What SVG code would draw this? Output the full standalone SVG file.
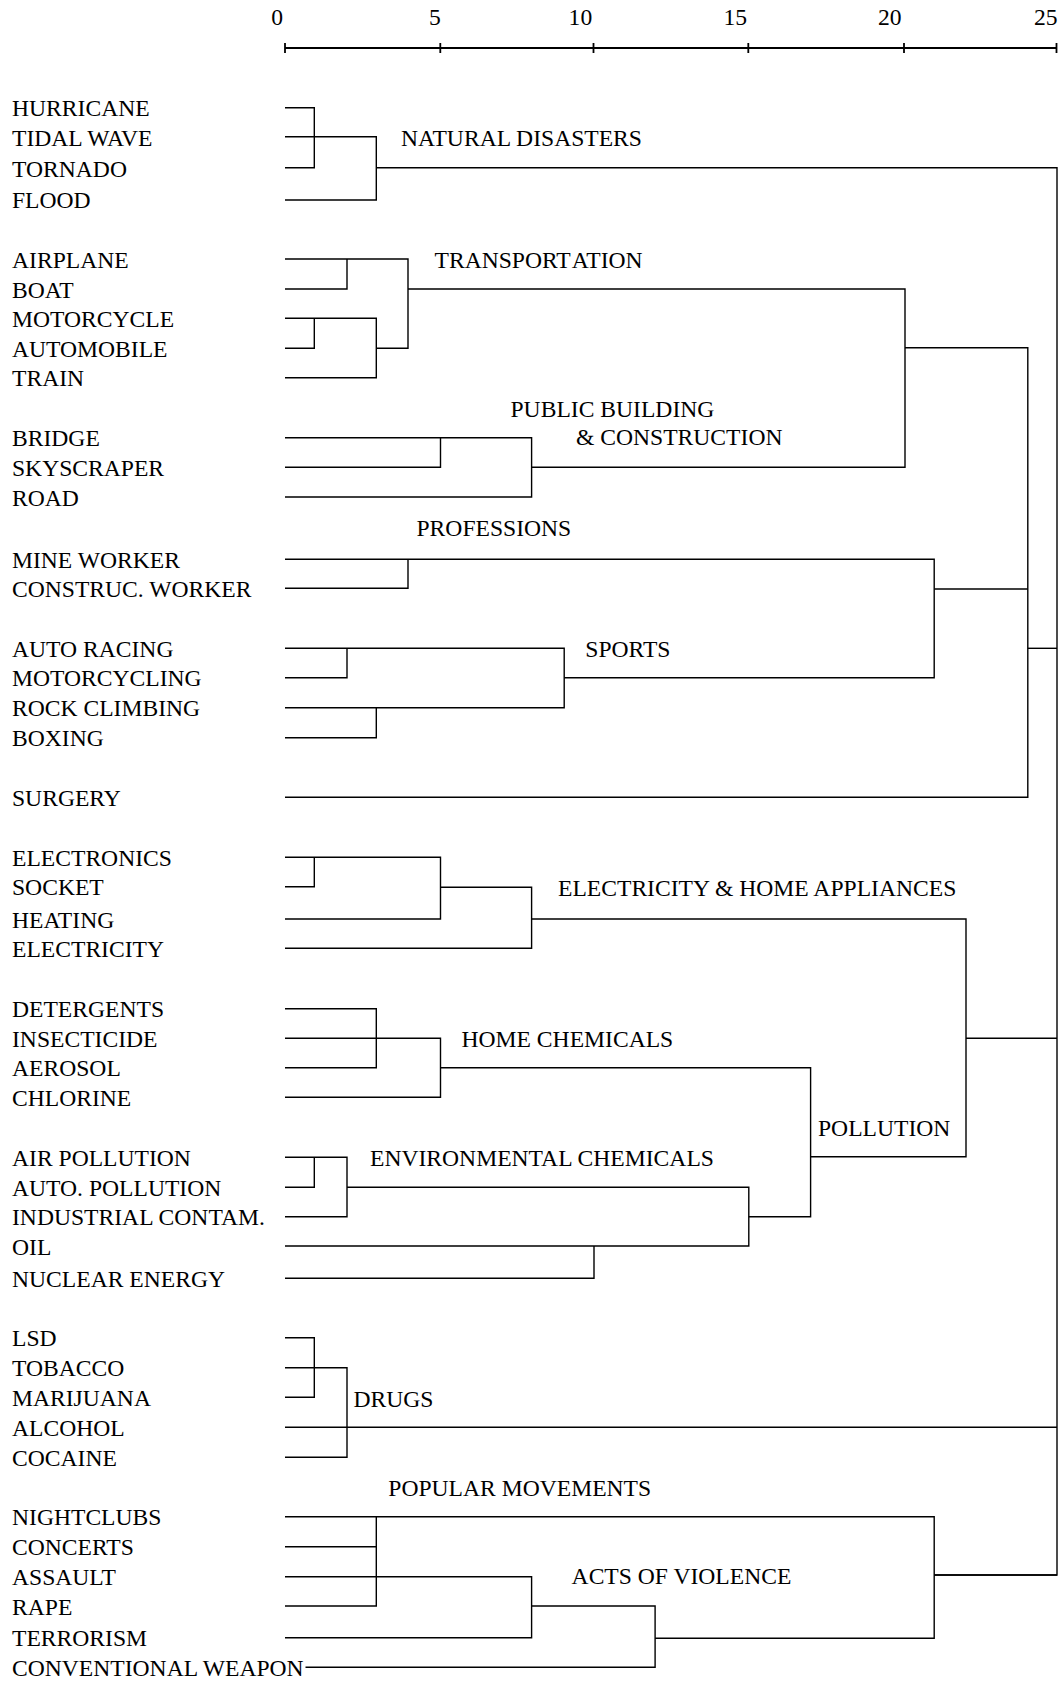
<svg xmlns="http://www.w3.org/2000/svg" width="1064" height="1682" viewBox="0 0 1064 1682">
<style>
text{font-family:"Liberation Serif","Times New Roman",serif;font-size:23.6px;fill:#000}
.ax text{text-anchor:middle}
.ln{fill:none;stroke:#000;stroke-width:1.4}
.axl{fill:none;stroke:#000;stroke-width:1.8}
</style>
<rect width="1064" height="1682" fill="#fff"/>
<g id="axis" class="ax">
<path class="axl" d="M285,48H1057M285,43V53M440.3,43V53M593.5,43V53M748.3,43V53M904,43V53M1056.5,43V53"/>
<text x="277.2" y="25">0</text>
<text x="435" y="25">5</text>
<text x="580.4" y="25">10</text>
<text x="735.3" y="25">15</text>
<text x="889.7" y="25">20</text>
<text x="1045.8" y="25">25</text>
</g>
<g id="connectors" class="ln">
<path d="M285,107.7H314.3V167.7H285"/>
<path d="M285,136.7H376.3V200H285"/>
<path d="M376.3,167.7H1057V1575H934.2"/>
<path d="M285,259H408V348.3H376.3"/>
<path d="M347,259V289H285"/>
<path d="M285,318.3H376.3V377.7H285"/>
<path d="M314.3,318.3V348.3H285"/>
<path d="M408,289H905V467.3H531.6"/>
<path d="M285,437.7H531.6V497H285"/>
<path d="M440.5,437.7V467.3H285"/>
<path d="M905,347.7H1027.8V797.3H285"/>
<path d="M1027.8,648.3H1057"/>
<path d="M285,559.3H934.2V677.7H564.2"/>
<path d="M408,559.3V588.3H285"/>
<path d="M934.2,589H1027.8"/>
<path d="M285,648.3H564.2V707.7H285"/>
<path d="M347,648.3V677.7H285"/>
<path d="M376.3,707.7V737.7H285"/>
<path d="M285,857.3H440.5V919H285"/>
<path d="M314.3,857.3V886.7H285"/>
<path d="M440.5,887.3H531.6V948.3H285"/>
<path d="M531.6,919H966V1156.7H810.6"/>
<path d="M966,1038.3H1057"/>
<path d="M285,1008.7H376.3V1067.7H285"/>
<path d="M285,1038.3H440.5V1097.3H285"/>
<path d="M440.5,1067.7H810.6V1216.7H748.8"/>
<path d="M285,1157.3H347V1216.7H285"/>
<path d="M314.3,1157.3V1187.3H285"/>
<path d="M347,1187.3H748.8V1246H285"/>
<path d="M594,1246V1278.3H285"/>
<path d="M285,1337.7H314.3V1397.3H285"/>
<path d="M285,1367.7H347V1457.3H285"/>
<path d="M285,1427.3H1057"/>
<path d="M285,1516.7H934.2V1638.3H655.1"/>
<path d="M376.3,1516.7V1606H285"/>
<path d="M376.3,1546.7H285"/>
<path d="M285,1576.7H531.6V1637.7H285"/>
<path d="M531.6,1606H655.1V1667.3H305.5"/>
<path d="M934.2,1575H1057"/>
</g>
<g id="leaves">
<g id="n-hurricane"><text x="12" y="116.3">HURRICANE</text></g>
<g id="n-tidal-wave"><text x="12" y="145.5">TIDAL WAVE</text></g>
<g id="n-tornado"><text x="12" y="176.5">TORNADO</text></g>
<g id="n-flood"><text x="12" y="207.8">FLOOD</text></g>
<g id="n-airplane"><text x="12" y="267.6">AIRPLANE</text></g>
<g id="n-boat"><text x="12" y="297.6">BOAT</text></g>
<g id="n-motorcycle"><text x="12" y="326.9">MOTORCYCLE</text></g>
<g id="n-automobile"><text x="12" y="356.9">AUTOMOBILE</text></g>
<g id="n-train"><text x="12" y="386.3">TRAIN</text></g>
<g id="n-bridge"><text x="12" y="446.3">BRIDGE</text></g>
<g id="n-skyscraper"><text x="12" y="475.9">SKYSCRAPER</text></g>
<g id="n-road"><text x="12" y="505.6">ROAD</text></g>
<g id="n-mine-worker"><text x="12" y="568">MINE WORKER</text></g>
<g id="n-construc-worker"><text x="12" y="597">CONSTRUC. WORKER</text></g>
<g id="n-auto-racing"><text x="12" y="657">AUTO RACING</text></g>
<g id="n-motorcycling"><text x="12" y="686.3">MOTORCYCLING</text></g>
<g id="n-rock-climbing"><text x="12" y="716.3">ROCK CLIMBING</text></g>
<g id="n-boxing"><text x="12" y="746.3">BOXING</text></g>
<g id="n-surgery"><text x="12" y="805.9">SURGERY</text></g>
<g id="n-electronics"><text x="12" y="865.9">ELECTRONICS</text></g>
<g id="n-socket"><text x="12" y="895.3">SOCKET</text></g>
<g id="n-heating"><text x="12" y="927.6">HEATING</text></g>
<g id="n-electricity"><text x="12" y="956.9">ELECTRICITY</text></g>
<g id="n-detergents"><text x="12" y="1017.3">DETERGENTS</text></g>
<g id="n-insecticide"><text x="12" y="1046.9">INSECTICIDE</text></g>
<g id="n-aerosol"><text x="12" y="1076.3">AEROSOL</text></g>
<g id="n-chlorine"><text x="12" y="1105.9">CHLORINE</text></g>
<g id="n-air-pollution"><text x="12" y="1165.9">AIR POLLUTION</text></g>
<g id="n-auto-pollution"><text x="12" y="1195.9">AUTO. POLLUTION</text></g>
<g id="n-industrial-contam"><text x="12" y="1225.3">INDUSTRIAL CONTAM.</text></g>
<g id="n-oil"><text x="12" y="1254.6">OIL</text></g>
<g id="n-nuclear-energy"><text x="12" y="1286.9">NUCLEAR ENERGY</text></g>
<g id="n-lsd"><text x="12" y="1346.3">LSD</text></g>
<g id="n-tobacco"><text x="12" y="1376.3">TOBACCO</text></g>
<g id="n-marijuana"><text x="12" y="1405.9">MARIJUANA</text></g>
<g id="n-alcohol"><text x="12" y="1435.9">ALCOHOL</text></g>
<g id="n-cocaine"><text x="12" y="1465.9">COCAINE</text></g>
<g id="n-nightclubs"><text x="12" y="1525.3">NIGHTCLUBS</text></g>
<g id="n-concerts"><text x="12" y="1555.3">CONCERTS</text></g>
<g id="n-assault"><text x="12" y="1585.3">ASSAULT</text></g>
<g id="n-rape"><text x="12" y="1614.6">RAPE</text></g>
<g id="n-terrorism"><text x="12" y="1646.3">TERRORISM</text></g>
<g id="n-conventional-weapon"><text x="12" y="1675.9">CONVENTIONAL WEAPON</text></g>
</g>
<g id="clusters">
<g id="c-natural-disasters"><text x="401" y="145.5">NATURAL DISASTERS</text></g>
<g id="c-transportation"><text x="434.5" y="267.8">TRANSPORT<tspan dx="3">ATION</tspan></text></g>
<g id="c-public-building"><text x="510.5" y="416.5">PUBLIC BUILDING</text><text x="576" y="445">&amp; CONSTRUCTION</text></g>
<g id="c-professions"><text x="416.5" y="535.8">PROFESSIONS</text></g>
<g id="c-sports"><text x="585.3" y="656.5">SPORTS</text></g>
<g id="c-electricity"><text x="558" y="895.5">ELECTRICITY &amp; HOME APPLIANCES</text></g>
<g id="c-home-chemicals"><text x="461.5" y="1046.5">HOME CHEMICALS</text></g>
<g id="c-pollution"><text x="818" y="1135.8">POLLUTION</text></g>
<g id="c-environmental"><text x="370" y="1165.5">ENVIRONMENTAL CHEMICALS</text></g>
<g id="c-drugs"><text x="353.5" y="1406.5">DRUGS</text></g>
<g id="c-popular-movements"><text x="388.3" y="1495.5">POPULAR MOVEMENTS</text></g>
<g id="c-acts-of-violence"><text x="571.6" y="1584.2">ACTS OF VIOLENCE</text></g>
</g>
</svg>
